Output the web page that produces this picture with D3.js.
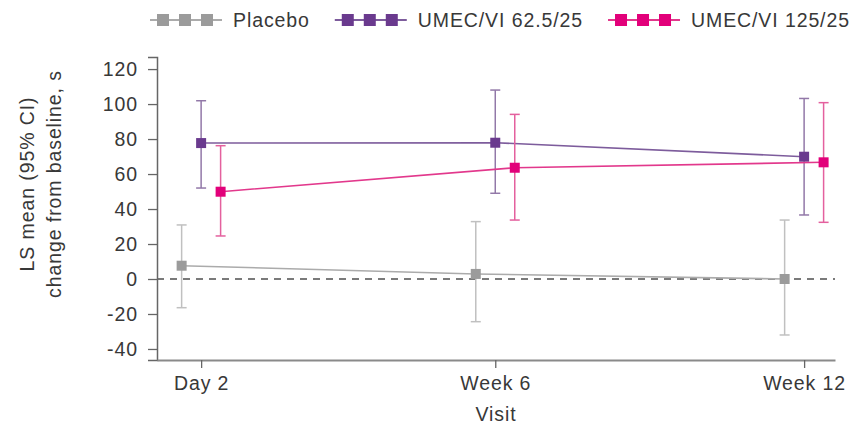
<!DOCTYPE html>
<html>
<head>
<meta charset="utf-8">
<script src="https://cdn.jsdelivr.net/npm/d3@7"></script>
<style>
  body { margin: 0; background: #fff; }
  svg text { font-family: "Liberation Sans", Arial, sans-serif; }
</style>
</head>
<body>
<svg id="chart" width="865" height="425"></svg>
<script>
// ---- Data ----
const visits = ["Day 2", "Week 6", "Week 12"];
const visitDays = [2, 42, 84];
const seriesNames = ["Placebo", "UMEC/VI 62.5/25", "UMEC/VI 125/25"];
const placeboMean = [7.6, 2.9, 0.0];
const placeboLow = [-16.4, -24.4, -32.0];
const placeboHigh = [30.9, 32.8, 33.7];
const umec62Mean = [77.7, 77.9, 69.9];
const umec62Low = [52.0, 49.0, 36.6];
const umec62High = [101.9, 108.0, 103.2];
const umec125Mean = [49.9, 63.6, 66.7];
const umec125Low = [24.6, 33.7, 32.4];
const umec125High = [76.2, 94.1, 100.8];
const yTicks = [-40, -20, 0, 20, 40, 60, 80, 100, 120];

const seriesStyle = [
  { marker: "#9b9b9b", line: "#ababab", err: "#c0c0c0", offset: -2.65 },
  { marker: "#6a3a8e", line: "#7d5c9c", err: "#9278a8", offset: 0 },
  { marker: "#e2007a", line: "#e2388c", err: "#e4609e", offset: 2.65 }
];
const series = [
  { name: seriesNames[0], mean: placeboMean, low: placeboLow, high: placeboHigh },
  { name: seriesNames[1], mean: umec62Mean, low: umec62Low, high: umec62High },
  { name: seriesNames[2], mean: umec125Mean, low: umec125Low, high: umec125High }
];

const svg = d3.select("#chart");
const x = d3.scaleLinear().domain([-4, 88.2]).range([157, 835]);
const y = d3.scaleLinear().domain([-46.3, 126.9]).range([360, 57]);
const textColor = "#383838";
const fontSize = "19.5px";
const ls = "0.9px";

// zero dashed line
svg.append("line")
  .attr("x1", x(-4)).attr("x2", x(88.2))
  .attr("y1", y(0)).attr("y2", y(0))
  .attr("stroke", "#7a7a7a").attr("stroke-width", 2)
  .attr("stroke-dasharray", "7,6");

// Y axis
const yAxis = svg.append("g").attr("transform", `translate(${x(-4)},0)`)
  .call(d3.axisLeft(y).tickValues(yTicks).tickSize(9).tickPadding(10).tickFormat(d => String(d)));
yAxis.select(".domain").attr("stroke", "#666").attr("stroke-width", 1.5);
yAxis.selectAll(".tick line").attr("stroke", "#666").attr("stroke-width", 1.3);
yAxis.selectAll(".tick text").attr("fill", textColor).style("font-size", fontSize)
  .style("letter-spacing", ls).attr("dy", "0.34em");

// X axis
const xAxis = svg.append("g").attr("transform", `translate(0,${y(-46.3)})`)
  .call(d3.axisBottom(x).tickValues(visitDays).tickSize(8).tickPadding(8)
    .tickFormat((d, i) => visits[i]).tickSizeOuter(0));
xAxis.select(".domain").attr("stroke", "#8a8a8a").attr("stroke-width", 2.2);
xAxis.selectAll(".tick line").attr("stroke", "#666").attr("stroke-width", 1.3);
xAxis.selectAll(".tick text").attr("fill", textColor).style("font-size", fontSize)
  .style("letter-spacing", ls);

// Axis titles
svg.append("text").attr("x", 496).attr("y", 421).attr("text-anchor", "middle")
  .attr("fill", textColor).style("font-size", fontSize).style("letter-spacing", ls).text("Visit");
const yt = svg.append("text").attr("transform", "translate(0,184) rotate(-90)")
  .attr("text-anchor", "middle").attr("fill", textColor).style("font-size", fontSize).style("letter-spacing", ls);
yt.append("tspan").attr("x", 0).attr("y", 34).text("LS mean (95% CI)");
yt.append("tspan").attr("x", 0).attr("y", 61).text("change from baseline, s");

// Series
series.forEach((s, si) => {
  const st = seriesStyle[si];
  const pts = visitDays.map((d, i) => ({ xv: d + st.offset, m: s.mean[i], lo: s.low[i], hi: s.high[i] }));
  const g = svg.append("g");
  // error bars
  pts.forEach(p => {
    g.append("line").attr("x1", x(p.xv)).attr("x2", x(p.xv)).attr("y1", y(p.lo)).attr("y2", y(p.hi))
      .attr("stroke", st.err).attr("stroke-width", 1.5);
    [p.lo, p.hi].forEach(v => {
      g.append("line").attr("x1", x(p.xv) - 5).attr("x2", x(p.xv) + 5).attr("y1", y(v)).attr("y2", y(v))
        .attr("stroke", st.err).attr("stroke-width", 1.5);
    });
  });
  // line
  g.append("path").datum(pts)
    .attr("d", d3.line().x(p => x(p.xv)).y(p => y(p.m)))
    .attr("fill", "none").attr("stroke", st.line).attr("stroke-width", 1.6);
  // markers
  g.selectAll("rect").data(pts).join("rect")
    .attr("x", p => x(p.xv) - 5).attr("y", p => y(p.m) - 5)
    .attr("width", 10).attr("height", 10).attr("fill", st.marker);
});

// Legend
const leg = svg.append("g");
let lx = 150;
const ly = 20;
series.forEach((s, si) => {
  const st = seriesStyle[si];
  const sw = 72;
  leg.append("line").attr("x1", lx).attr("x2", lx + sw).attr("y1", ly).attr("y2", ly)
    .attr("stroke", st.line).attr("stroke-width", 2);
  [13, 35, 57].forEach(o => {
    leg.append("rect").attr("x", lx + o - 6).attr("y", ly - 6).attr("width", 12).attr("height", 12)
      .attr("fill", st.marker);
  });
  const t = leg.append("text").attr("x", lx + sw + 11).attr("y", ly + 7)
    .attr("fill", textColor).style("font-size", fontSize).style("letter-spacing", ls).text(s.name);
  lx = lx + sw + 11 + t.node().getComputedTextLength() + 25;
});
</script>
</body>
</html>
